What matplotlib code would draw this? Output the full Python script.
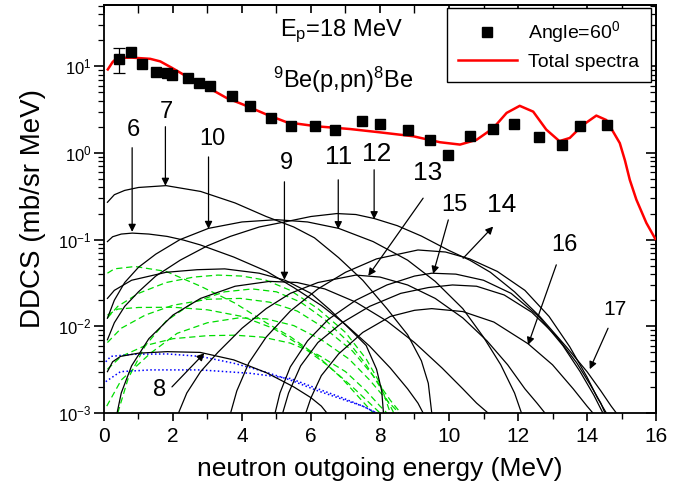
import matplotlib
matplotlib.use("Agg")
import matplotlib.pyplot as plt
from matplotlib.lines import Line2D
from matplotlib.ticker import LogLocator, MultipleLocator

plt.rcParams['font.family'] = ['Liberation Sans', 'DejaVu Sans']
plt.rcParams['mathtext.fontset'] = 'custom'
plt.rcParams['mathtext.rm'] = 'Liberation Sans'
plt.rcParams['mathtext.it'] = 'Liberation Sans:italic'
plt.rcParams['mathtext.bf'] = 'Liberation Sans:bold'

# ---------------- data ----------------
exp_E = [0.43, 0.77, 1.10, 1.52, 1.83, 1.97, 2.43, 2.75, 3.06, 3.71, 4.22, 4.85,
         5.42, 6.12, 6.71, 7.47, 8.00, 8.80, 9.45, 9.98, 10.60, 11.28, 11.89,
         12.61, 13.28, 13.79, 14.58]
exp_Y = [12.2, 14.7, 10.7, 8.7, 8.4, 8.0, 7.3, 6.4, 5.9, 4.6, 3.5, 2.5,
         2.07, 2.03, 1.86, 2.32, 2.16, 1.86, 1.42, 0.95, 1.58, 1.89, 2.16,
         1.51, 1.25, 2.07, 2.10]
err_E = [0.43]
err_Y = [12.2]
err_lo = [3.8]
err_hi = [4.1]

tot_E = [0.11, 0.25, 0.38, 0.8, 1.34, 1.63, 1.97, 2.31, 2.79, 3.08, 3.56, 4.05,
         4.72, 5.3, 6.17, 7.13, 8.0, 8.96, 9.74, 10.32, 10.8, 11.28, 11.67,
         12.05, 12.44, 12.82, 13.2, 13.5, 13.88, 14.27, 14.56, 14.95, 15.1,
         15.24, 15.43, 15.72, 15.98]
tot_Y = [9.2, 11.2, 12.5, 12.6, 12.2, 11.4, 9.6, 8.0, 6.4, 5.5, 4.3, 3.6,
         2.77, 2.26, 2.03, 1.89, 1.73, 1.56, 1.33, 1.25, 1.42, 1.93, 2.9,
         3.5, 3.0, 1.86, 1.37, 1.49, 2.1, 2.7, 2.4, 1.3, 0.82,
         0.49, 0.29, 0.156, 0.102]

# black component curves
c7_E = [0.1, 0.3, 0.6, 1.0, 1.8, 2.8, 3.8, 4.7, 5.5, 6.1, 6.8, 7.5, 8.2, 8.8, 9.2, 9.4, 9.5]
c7_Y = [0.27, 0.33, 0.37, 0.40, 0.42, 0.36, 0.265, 0.185, 0.14, 0.105, 0.062, 0.034, 0.016, 0.008, 0.004, 0.0022, 0.001]
c6_E = [0.1, 0.25, 0.5, 0.82, 1.3, 1.83, 2.3, 2.79, 3.76, 4.72, 5.5, 6.3, 7.0, 7.7, 8.3, 8.8, 9.1, 9.25]
c6_Y = [0.095, 0.108, 0.116, 0.119, 0.116, 0.109, 0.099, 0.087, 0.063, 0.043, 0.028, 0.0174, 0.0105, 0.0059, 0.0033, 0.0019, 0.0013, 0.001]
c9_E = [0.1, 0.3, 0.8, 1.8, 2.7, 3.5, 4.5, 5.25, 6.0, 6.55, 7.1, 7.6, 7.9, 8.05, 8.1]
c9_Y = [0.021, 0.026, 0.034, 0.042, 0.045, 0.046, 0.041, 0.034, 0.024, 0.0155, 0.0095, 0.006, 0.0032, 0.0018, 0.001]
c8_E = [0.1, 0.25, 0.48, 1.0, 1.83, 2.79, 3.76, 4.72, 5.5, 6.0, 6.3, 6.46]
c8_Y = [0.003, 0.0039, 0.0045, 0.0049, 0.0051, 0.005, 0.0041, 0.0029, 0.002, 0.0015, 0.0012, 0.001]
c10_E = [0.1, 0.3, 0.6, 1.0, 1.5, 2.2, 3.03, 4.0, 5.0, 5.9, 6.8, 7.8, 8.8, 9.6, 10.4, 11.0, 11.5, 11.9, 12.1]
c10_Y = [0.0124, 0.02, 0.032, 0.048, 0.068, 0.1, 0.135, 0.16, 0.17, 0.16, 0.135, 0.095, 0.058, 0.033, 0.016, 0.0075, 0.0036, 0.0017, 0.001]
c12_E = [0.1, 0.3, 0.6, 1.0, 1.5, 2.21, 3.0, 3.66, 4.5, 5.3, 6.0, 6.75, 7.3, 7.84, 8.5, 9.2, 10.0, 10.6, 11.2, 11.9, 12.63, 13.4, 14.0, 14.4, 14.7, 14.85]
c12_Y = [0.007, 0.011, 0.017, 0.025, 0.038, 0.058, 0.085, 0.109, 0.14, 0.162, 0.185, 0.2, 0.195, 0.175, 0.145, 0.11, 0.075, 0.058, 0.042, 0.025, 0.013, 0.0058, 0.003, 0.0018, 0.0012, 0.001]
s1_E = [0.38, 0.5, 0.8, 1.3, 2.0, 2.8, 3.8, 4.8, 5.6, 6.4, 7.3, 8.2, 9.0, 9.8, 10.4, 10.8, 11.13]
s1_Y = [0.001, 0.0017, 0.0035, 0.0072, 0.0135, 0.021, 0.029, 0.033, 0.032, 0.027, 0.019, 0.0115, 0.0065, 0.0033, 0.0019, 0.0013, 0.001]
c13_E = [2.16, 2.4, 2.8, 3.3, 4.0, 4.7, 5.4, 6.2, 7.3, 8.0, 8.8, 9.6, 10.4, 11.1, 11.7, 12.2, 12.55, 12.78]
c13_Y = [0.001, 0.0017, 0.003, 0.005, 0.0095, 0.016, 0.024, 0.032, 0.039, 0.037, 0.03, 0.021, 0.0125, 0.0068, 0.0036, 0.0019, 0.0013, 0.001]
c14_E = [3.67, 3.85, 4.2, 4.7, 5.4, 6.2, 7.0, 7.9, 9.1, 9.9, 10.6, 11.4, 12.2, 12.9, 13.5, 14.0, 14.3, 14.56]
c14_Y = [0.001, 0.0018, 0.0038, 0.0075, 0.015, 0.027, 0.042, 0.06, 0.076, 0.072, 0.06, 0.043, 0.026, 0.013, 0.0058, 0.0026, 0.0015, 0.001]
c15_E = [4.96, 5.1, 5.4, 5.9, 6.5, 7.3, 8.2, 9.0, 9.5, 10.2, 11.0, 11.8, 12.6, 13.3, 13.8, 14.2, 14.46]
c15_Y = [0.001, 0.0017, 0.0034, 0.0068, 0.012, 0.02, 0.03, 0.038, 0.041, 0.04, 0.034, 0.024, 0.013, 0.006, 0.003, 0.0016, 0.001]
cb_E = [5.18, 5.35, 5.7, 6.2, 6.9, 7.7, 8.6, 9.4, 10.1, 10.8, 11.6, 12.4, 13.1, 13.7, 14.1, 14.4, 14.52]
cb_Y = [0.001, 0.0017, 0.0035, 0.0065, 0.011, 0.017, 0.024, 0.028, 0.030, 0.029, 0.023, 0.0145, 0.0078, 0.0038, 0.0021, 0.0013, 0.001]
c16_E = [5.85, 6.0, 6.3, 6.8, 7.5, 8.3, 9.0, 9.5, 10.4, 11.3, 12.29, 13.0, 13.6, 14.0, 14.17]
c16_Y = [0.001, 0.0015, 0.0027, 0.0048, 0.0085, 0.013, 0.0153, 0.016, 0.0148, 0.0112, 0.0063, 0.0036, 0.0019, 0.0012, 0.001]

# green dashed curves
g1_E = [0.1, 0.3, 0.9, 1.8, 2.8, 3.8, 4.7, 5.4, 6.2, 6.9, 7.4, 7.8]
g1_Y = [0.041, 0.046, 0.049, 0.043, 0.029, 0.0185, 0.011, 0.0076, 0.0045, 0.0025, 0.0015, 0.001]
g2_E = [0.1, 0.4, 1.0, 2.0, 3.0, 4.0, 4.9, 5.7, 6.5, 7.2, 7.7, 8.0]
g2_Y = [0.0135, 0.0158, 0.0165, 0.0166, 0.0155, 0.013, 0.0095, 0.006, 0.0035, 0.002, 0.0013, 0.001]
g3_E = [0.1, 0.4, 1.0, 1.8, 2.6, 3.3, 4.0, 4.7, 5.4, 6.2, 7.0, 7.6, 8.0, 8.3]
g3_Y = [0.0125, 0.017, 0.024, 0.032, 0.037, 0.039, 0.038, 0.034, 0.026, 0.016, 0.0085, 0.0042, 0.0022, 0.001]
g4_E = [0.1, 0.5, 1.2, 2.0, 3.0, 3.95, 4.8, 5.6, 6.4, 7.2, 7.8, 8.3, 8.6]
g4_Y = [0.0065, 0.0095, 0.0135, 0.0175, 0.0205, 0.021, 0.019, 0.015, 0.0095, 0.0052, 0.0027, 0.0014, 0.001]
g5_E = [0.1, 0.5, 1.2, 2.0, 3.0, 3.8, 4.6, 5.4, 6.2, 7.0, 7.6, 8.0, 8.2]
g5_Y = [0.0032, 0.0045, 0.006, 0.0072, 0.0078, 0.0079, 0.0075, 0.0064, 0.0047, 0.003, 0.0018, 0.0012, 0.001]
g6_E = [0.08, 0.5, 1.35, 2.12, 3.0, 3.9, 4.7, 5.5, 6.3, 7.1, 7.7, 8.2, 8.55]
g6_Y = [0.0012, 0.0024, 0.0049, 0.0083, 0.011, 0.0125, 0.0122, 0.0102, 0.007, 0.0042, 0.0024, 0.0014, 0.001]
g7_E = [0.4, 0.7, 1.2, 1.8, 2.6, 3.5, 4.3, 5.0, 5.7, 6.4, 7.1, 7.6, 8.0, 8.3, 8.4]
g7_Y = [0.001, 0.0025, 0.006, 0.0115, 0.019, 0.025, 0.027, 0.025, 0.019, 0.012, 0.0065, 0.0036, 0.002, 0.0012, 0.001]

# blue dotted curves
b1_E = [0.05, 0.2, 0.86, 1.83, 2.79, 3.76, 4.53, 5.4, 6.2, 7.0, 7.5, 7.9]
b1_Y = [0.0039, 0.0045, 0.00476, 0.0048, 0.0045, 0.00375, 0.0031, 0.0024, 0.0018, 0.0014, 0.0012, 0.001]
b2_E = [0.05, 0.48, 1.35, 2.79, 4.24, 5.4, 6.2, 6.9, 7.5, 7.9]
b2_Y = [0.0023, 0.003, 0.00314, 0.00314, 0.00287, 0.0025, 0.0019, 0.0015, 0.0012, 0.001]

# ---------------- figure ----------------
fig = plt.figure(figsize=(6.81, 4.94), dpi=100)
ax = fig.add_axes([0.1527, 0.164, 0.8106, 0.8259])

black_curves = [(c7_E, c7_Y), (c6_E, c6_Y), (c9_E, c9_Y), (c8_E, c8_Y), (c10_E, c10_Y),
                (c12_E, c12_Y), (s1_E, s1_Y), (c13_E, c13_Y), (c14_E, c14_Y),
                (c15_E, c15_Y), (cb_E, cb_Y), (c16_E, c16_Y)]
green_curves = [(g1_E, g1_Y), (g2_E, g2_Y), (g3_E, g3_Y), (g4_E, g4_Y),
                (g5_E, g5_Y), (g6_E, g6_Y), (g7_E, g7_Y)]
blue_curves = [(b1_E, b1_Y), (b2_E, b2_Y)]

for e, y in green_curves:
    ax.plot(e, y, color='#00dd00', lw=0.9, ls=(0, (5, 3)))
for e, y in blue_curves:
    ax.plot(e, y, color='#0000ff', lw=1.1, ls=(0, (1, 1.6)))
for e, y in black_curves:
    ax.plot(e, y, color='black', lw=0.9)

ax.plot(tot_E, tot_Y, color='red', lw=1.8, zorder=4)
ax.plot(exp_E, exp_Y, ls='none', marker='s', ms=7.5, color='black', zorder=5)
ax.errorbar(err_E, err_Y, yerr=[err_lo, err_hi], fmt='none', ecolor='black',
            elinewidth=0.9, capsize=4, capthick=0.9, zorder=5)

ax.set_yscale('log')
ax.set_xlim(0, 16)
ax.set_ylim(1e-3, 51)

ax.xaxis.set_major_locator(MultipleLocator(2))
ax.xaxis.set_minor_locator(MultipleLocator(1))
ax.yaxis.set_major_locator(LogLocator(base=10, numticks=10))
ax.yaxis.set_minor_locator(LogLocator(base=10, subs=range(2, 10), numticks=20))

for s in ax.spines.values():
    s.set_linewidth(1.3)

ax.tick_params(axis='x', which='major', direction='out', length=6, width=1.2,
               labelsize=15, bottom=True, top=False, pad=4)
ax.tick_params(axis='x', which='minor', direction='out', length=4, width=1.0,
               bottom=True, top=False)
ax.tick_params(axis='y', which='major', direction='out', length=7, width=1.2,
               labelsize=12, left=True, right=False, pad=2)
ax.tick_params(axis='y', which='minor', direction='out', length=4, width=0.9,
               left=True, right=False)

# inward ticks on top and right
sec_x = ax.secondary_xaxis('top')
sec_x.xaxis.set_major_locator(MultipleLocator(2))
sec_x.xaxis.set_minor_locator(MultipleLocator(1))
sec_x.tick_params(which='major', direction='in', length=6, width=1.2, labeltop=False)
sec_x.tick_params(which='minor', direction='in', length=6, width=1.0)
sec_x.spines['top'].set_linewidth(1.3)
sec_y = ax.secondary_yaxis('right')
sec_y.yaxis.set_major_locator(LogLocator(base=10, numticks=10))
sec_y.yaxis.set_minor_locator(LogLocator(base=10, subs=range(2, 10), numticks=20))
sec_y.tick_params(which='major', direction='in', length=7, width=1.2, labelright=False)
sec_y.tick_params(which='minor', direction='in', length=4, width=0.9)
sec_y.spines['right'].set_linewidth(1.3)

ax.set_xlabel('neutron outgoing energy (MeV)', fontsize=19, labelpad=8)
ax.set_ylabel('DDCS (mb/sr MeV)', fontsize=20, labelpad=9)

ax.text(5.11, 25.3, r'E$_\mathrm{p}$=18 MeV', fontsize=17, ha='left', va='center')
ax.text(4.9, 7.0, r'$^\mathrm{9}$Be(p,pn)$^\mathrm{8}$Be', fontsize=17, ha='left', va='center')

# labels with arrows: (text, text pos, tail, head, fontsize)
labels = [
    ('6', (0.85, 1.85), (0.816, 1.15), (0.816, 0.123), 17),
    ('7', (1.81, 2.99), (1.78, 2.01), (1.78, 0.418), 17),
    ('10', (3.14, 1.46), (3.03, 0.90), (3.03, 0.133), 17),
    ('9', (5.28, 0.77), (5.23, 0.465), (5.23, 0.0344), 17),
    ('11', (6.79, 0.90), (6.79, 0.49), (6.79, 0.132), 19),
    ('12', (7.91, 0.98), (7.83, 0.64), (7.83, 0.172), 19),
    ('13', (9.39, 0.59), (9.25, 0.301), (7.66, 0.0382), 19),
    ('15', (10.17, 0.252), (9.98, 0.169), (9.54, 0.0403), 17),
    ('14', (11.53, 0.252), (10.41, 0.061), (11.28, 0.1416), 19),
    ('16', (13.35, 0.087), (13.11, 0.0512), (12.29, 0.0061), 17),
    ('17', (14.80, 0.0155), (14.61, 0.0095), (14.08, 0.0032), 15),
    ('8', (1.61, 0.00184), (1.97, 0.0020), (2.91, 0.0049), 17),
]
for txt, tpos, tail, head, fs in labels:
    ax.text(tpos[0], tpos[1], txt, fontsize=fs, ha='center', va='center')
    ax.annotate('', xy=head, xytext=tail,
                arrowprops=dict(arrowstyle='-|>', lw=0.9, color='black',
                                mutation_scale=11, shrinkA=0, shrinkB=0))

handles = [Line2D([], [], ls='none', marker='s', ms=7.5, color='black'),
           Line2D([], [], color='red', lw=1.8)]
leg = ax.legend(handles, [r'Angle=60$^\mathrm{0}$', 'Total spectra'],
                loc='upper right', bbox_to_anchor=(0.991, 0.993), borderaxespad=0,
                fontsize=14, frameon=True, fancybox=False, edgecolor='black',
                framealpha=1, handlelength=3.0, borderpad=0.6, labelspacing=0.4,
                handletextpad=0.6)
leg.get_frame().set_linewidth(1.0)

fig.savefig('out.png', dpi=100)
